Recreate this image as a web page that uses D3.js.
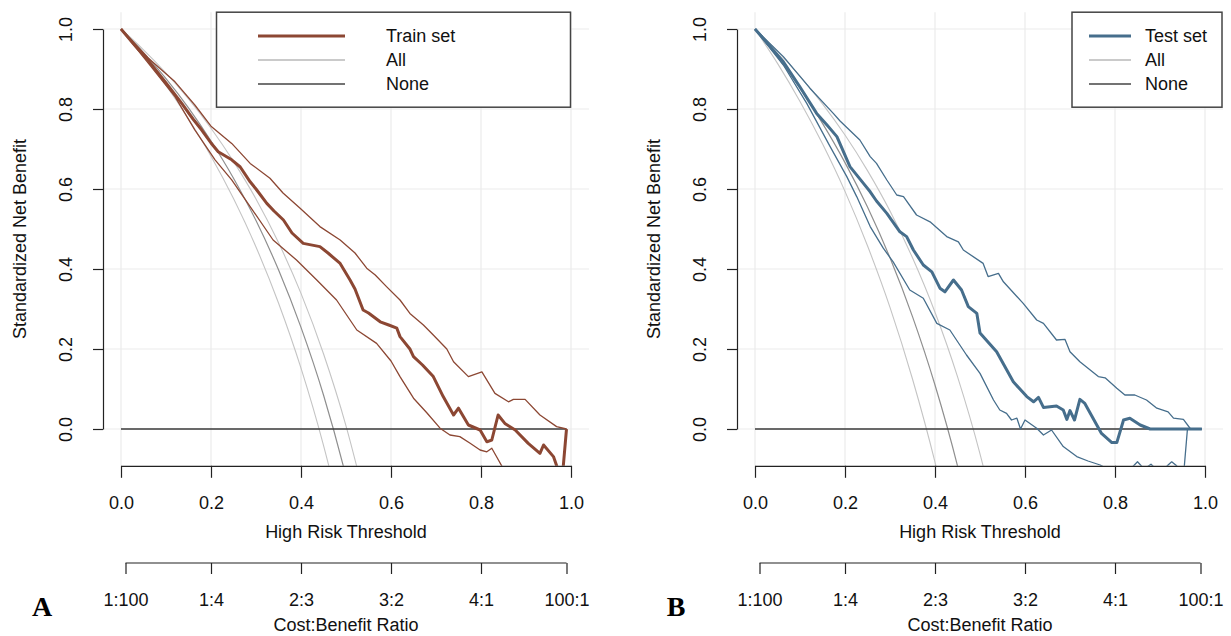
<!DOCTYPE html>
<html>
<head>
<meta charset="utf-8">
<script src="https://cdn.jsdelivr.net/npm/d3@7"></script>
<style>
body { margin: 0; background: #fff; }
svg { display: block; font-family: 'Liberation Sans', Arial, sans-serif; }
</style>
</head>
<body>
<svg id="chart" width="1231" height="636"></svg>
<script>
var thresholdTicks = [0, 0.2, 0.4, 0.6, 0.8, 1]
var benefitTicks = [0, 0.2, 0.4, 0.6, 0.8, 1]
var costTicks = [0.01, 0.2, 0.4, 0.6, 0.8, 0.99]
var costLabels = ['1:100', '1:4', '2:3', '3:2', '4:1', '100:1']

// "All" strategy, read at these thresholds
var allThresholds = [0, 0.05, 0.1, 0.15, 0.2, 0.25, 0.3, 0.35, 0.4, 0.45, 0.5, 0.55]
var trainAll = [1, 0.941, 0.876, 0.803, 0.72, 0.627, 0.521, 0.398, 0.254, 0.085, -0.119, -0.367]
var trainAllLo = [1, 0.933, 0.859, 0.775, 0.682, 0.576, 0.455, 0.315, 0.152, -0.041, -0.273, -0.556]
var trainAllHi = [1, 0.948, 0.89, 0.825, 0.752, 0.669, 0.575, 0.466, 0.339, 0.188, 0.008, -0.212]
var testAll = [1, 0.93, 0.852, 0.764, 0.666, 0.555, 0.428, 0.281, 0.11, -0.092, -0.335, -0.632]
var testAllLo = [1, 0.914, 0.819, 0.713, 0.594, 0.458, 0.304, 0.125, -0.083, -0.33, -0.625, -0.986]
var testAllHi = [1, 0.944, 0.882, 0.813, 0.735, 0.646, 0.545, 0.428, 0.292, 0.131, -0.062, -0.298]

// "None" strategy
var noneThresholds = [0, 0.99]
var noneValues = [0, 0]

// model curves [threshold, standardized net benefit]
var trainModel = [[0, 1], [0.03, 0.96], [0.061, 0.921], [0.1, 0.865], [0.135, 0.814], [0.16, 0.775], [0.179, 0.748],
  [0.2, 0.715], [0.216, 0.693], [0.246, 0.673], [0.265, 0.655], [0.287, 0.618], [0.3, 0.6], [0.324, 0.564],
  [0.34, 0.545], [0.361, 0.5225], [0.38, 0.49], [0.405, 0.464], [0.442, 0.456], [0.46, 0.44], [0.487, 0.414],
  [0.509, 0.3725], [0.52, 0.35], [0.538, 0.2975], [0.55, 0.29], [0.576, 0.268], [0.595, 0.26], [0.613, 0.252],
  [0.62, 0.231], [0.642, 0.2], [0.65, 0.181], [0.67, 0.16], [0.694, 0.131], [0.716, 0.081], [0.739, 0.035],
  [0.75, 0.052], [0.772, 0.01], [0.798, -0.0025], [0.813, -0.032], [0.824, -0.0275], [0.838, 0.035],
  [0.853, 0.014], [0.876, -0.0025], [0.905, -0.036], [0.931, -0.061], [0.939, -0.04], [0.961, -0.069],
  [0.98, -0.13], [0.99, 0]]
var trainModelHi = [[0, 1], [0.061, 0.927], [0.12, 0.868], [0.164, 0.81], [0.2, 0.757], [0.246, 0.714],
  [0.287, 0.664], [0.331, 0.627], [0.36, 0.59], [0.398, 0.552], [0.442, 0.506], [0.487, 0.4725], [0.52, 0.44],
  [0.546, 0.402], [0.565, 0.385], [0.59, 0.356], [0.62, 0.3225], [0.642, 0.289], [0.672, 0.26], [0.694, 0.235],
  [0.724, 0.2], [0.739, 0.168], [0.772, 0.131], [0.802, 0.143], [0.831, 0.089], [0.861, 0.068], [0.872, 0.074],
  [0.898, 0.074], [0.931, 0.035], [0.968, 0.006], [0.99, 0]]
var trainModelLo = [[0, 1], [0.061, 0.914], [0.12, 0.831], [0.164, 0.748], [0.209, 0.673], [0.246, 0.623],
  [0.287, 0.556], [0.338, 0.4725], [0.39, 0.4225], [0.435, 0.3725], [0.479, 0.3225], [0.524, 0.2475],
  [0.568, 0.214], [0.6, 0.17], [0.62, 0.131], [0.65, 0.077], [0.68, 0.04], [0.709, 0.002], [0.731, -0.015],
  [0.753, -0.019], [0.775, -0.035], [0.798, -0.0525], [0.813, -0.057], [0.824, -0.048], [0.846, -0.092],
  [0.86, -0.13]]

var testModel = [[0, 1], [0.063, 0.918], [0.1, 0.855], [0.137, 0.789], [0.16, 0.76], [0.182, 0.731],
  [0.211, 0.656], [0.241, 0.614], [0.256, 0.593], [0.27, 0.57], [0.293, 0.539], [0.322, 0.493], [0.337, 0.481],
  [0.352, 0.4475], [0.374, 0.41], [0.393, 0.393], [0.411, 0.352], [0.422, 0.343], [0.441, 0.3725],
  [0.459, 0.3475], [0.474, 0.306], [0.493, 0.289], [0.5, 0.24], [0.537, 0.193], [0.574, 0.118], [0.604, 0.081],
  [0.619, 0.068], [0.63, 0.079], [0.641, 0.054], [0.67, 0.0575], [0.685, 0.0475], [0.693, 0.024], [0.7, 0.046],
  [0.71, 0.0225], [0.722, 0.074], [0.733, 0.064], [0.77, -0.011], [0.793, -0.034], [0.804, -0.034],
  [0.819, 0.0225], [0.833, 0.027], [0.856, 0.01], [0.878, 0], [0.993, 0]]
var testModelHi = [[0, 1], [0.063, 0.931], [0.122, 0.852], [0.174, 0.789], [0.189, 0.77], [0.233, 0.7225],
  [0.256, 0.681], [0.27, 0.664], [0.293, 0.6225], [0.315, 0.585], [0.33, 0.581], [0.359, 0.535], [0.389, 0.518],
  [0.426, 0.481], [0.452, 0.468], [0.463, 0.4475], [0.507, 0.414], [0.518, 0.381], [0.541, 0.389],
  [0.552, 0.368], [0.596, 0.314], [0.626, 0.2725], [0.641, 0.264], [0.67, 0.2225], [0.689, 0.224], [0.7, 0.193],
  [0.722, 0.168], [0.763, 0.131], [0.778, 0.128], [0.804, 0.102], [0.822, 0.085], [0.844, 0.085],
  [0.87, 0.0725], [0.893, 0.052], [0.918, 0.043], [0.93, 0.027], [0.952, 0.024], [0.968, 0], [0.993, 0]]
var testModelLo = [[0, 1], [0.063, 0.91], [0.115, 0.814], [0.167, 0.706], [0.204, 0.631], [0.226, 0.581],
  [0.256, 0.506], [0.285, 0.452], [0.307, 0.418], [0.344, 0.3475], [0.374, 0.327], [0.404, 0.264],
  [0.433, 0.2475], [0.47, 0.185], [0.5, 0.139], [0.53, 0.0725], [0.544, 0.0475], [0.559, 0.039], [0.57, 0.0225],
  [0.582, 0.027], [0.59, 0], [0.6, 0.0225], [0.626, 0.002], [0.641, -0.015], [0.659, -0.0025], [0.685, -0.044],
  [0.715, -0.069], [0.74, -0.08], [0.767, -0.09], [0.8, -0.11], [0.83, -0.105], [0.85, -0.082], [0.865, -0.1],
  [0.88, -0.088], [0.9, -0.11], [0.918, -0.09], [0.926, -0.082], [0.937, -0.092], [0.952, -0.12], [0.961, 0],
  [0.993, 0]]

var legendNames = ['Train set', 'Test set']
var legendOther = ['All', 'None']

var svg = d3.select('#chart')

draw_panel({ id: 'a', x0: 121, letter: 'A', color: '#8c4733', name: legendNames[0],
  model: trainModel, hi: trainModelHi, lo: trainModelLo,
  all: trainAll, allLo: trainAllLo, allHi: trainAllHi,
  legend: { x: 216.5, w: 354, line0: 258, line1: 345, text: 386 } })

draw_panel({ id: 'b', x0: 755, letter: 'B', color: '#466e8c', name: legendNames[1],
  model: testModel, hi: testModelHi, lo: testModelLo,
  all: testAll, allLo: testAllLo, allHi: testAllHi,
  legend: { x: 1072, w: 150, line0: 1089, line1: 1131, text: 1145 } })

function draw_panel (p) {
  var x = d3.scaleLinear().domain([0, 1]).range([p.x0, p.x0 + 450])
  var y = d3.scaleLinear().domain([0, 1]).range([429, 29])

  // plot region (R style 4% padding)
  var left = x(-0.04), right = x(1.04), top = y(1.042), bottom = y(-0.092)

  var g = svg.append('g')

  svg.append('clipPath').attr('id', 'clip-' + p.id)
    .append('rect')
    .attr('x', left).attr('y', top)
    .attr('width', right - left).attr('height', bottom - top)

  // grid
  g.selectAll('line.vgrid').data(thresholdTicks).enter().append('line')
    .attr('x1', function (d) { return x(d) }).attr('x2', function (d) { return x(d) })
    .attr('y1', top).attr('y2', bottom)
    .attr('stroke', '#ebebeb').attr('stroke-width', 1.2)
  g.selectAll('line.hgrid').data(benefitTicks).enter().append('line')
    .attr('x1', left).attr('x2', right)
    .attr('y1', function (d) { return y(d) }).attr('y2', function (d) { return y(d) })
    .attr('stroke', '#ebebeb').attr('stroke-width', 1.2)

  var curves = g.append('g').attr('clip-path', 'url(#clip-' + p.id + ')')

  var smooth = d3.line()
    .x(function (d, i) { return x(allThresholds[i]) })
    .y(function (d) { return y(d) })
    .curve(d3.curveMonotoneX)
  var jagged = d3.line()
    .x(function (d) { return x(d[0]) })
    .y(function (d) { return y(d[1]) })

  ;[p.allLo, p.allHi].forEach(function (vals) {
    curves.append('path').attr('d', smooth(vals))
      .attr('fill', 'none').attr('stroke', '#c4c4c4').attr('stroke-width', 1.1)
  })
  curves.append('path').attr('d', smooth(p.all))
    .attr('fill', 'none').attr('stroke', '#8f8f8f').attr('stroke-width', 1.2)

  curves.append('path')
    .attr('d', d3.line().x(function (d, i) { return x(noneThresholds[i]) }).y(function (d) { return y(d) })(noneValues))
    .attr('fill', 'none').attr('stroke', '#3a3a3a').attr('stroke-width', 1.4)

  ;[p.lo, p.hi].forEach(function (pts) {
    curves.append('path').attr('d', jagged(pts))
      .attr('fill', 'none').attr('stroke', p.color).attr('stroke-width', 1.3)
      .attr('stroke-linejoin', 'round')
  })
  curves.append('path').attr('d', jagged(p.model))
    .attr('fill', 'none').attr('stroke', p.color).attr('stroke-width', 3)
    .attr('stroke-linejoin', 'round')

  // axes
  var yAxis = g.append('g').attr('transform', 'translate(' + left + ',0)')
    .call(d3.axisLeft(y).tickValues(benefitTicks).tickFormat(d3.format('.1f')).tickSize(10).tickSizeOuter(0))
  yAxis.selectAll('.tick text')
    .attr('transform', 'rotate(-90)')
    .attr('x', 0).attr('y', -31).attr('dy', 0)
    .attr('text-anchor', 'middle')

  var xAxis = g.append('g').attr('transform', 'translate(0,' + bottom + ')')
    .call(d3.axisBottom(x).tickValues(thresholdTicks).tickFormat(d3.format('.1f')).tickSize(12).tickSizeOuter(0))
  xAxis.selectAll('.tick text').attr('y', 37).attr('dy', '0.35em')

  var costAxis = g.append('g').attr('transform', 'translate(0,563)')
    .call(d3.axisBottom(x).tickValues(costTicks)
      .tickFormat(function (d, i) { return costLabels[i] }).tickSize(11).tickSizeOuter(0))
  costAxis.select('.domain').attr('d', 'M' + x(costTicks[0]) + ',0H' + x(costTicks[costTicks.length - 1]))
  costAxis.selectAll('.tick text').attr('y', 37).attr('dy', '0.35em')

  ;[yAxis, xAxis, costAxis].forEach(function (a) {
    a.selectAll('.domain, .tick line').attr('stroke', '#222').attr('stroke-width', 1.2)
    a.selectAll('.tick text').attr('fill', '#111').style('font-size', '18px')
      .style('font-family', "'Liberation Sans', Arial, sans-serif")
  })

  // titles
  var mid = (left + right) / 2
  g.append('text').text('High Risk Threshold')
    .attr('x', mid).attr('y', 532).attr('dy', '0.35em')
    .attr('text-anchor', 'middle').style('font-size', '18px').attr('fill', '#111')
  g.append('text').text('Cost:Benefit Ratio')
    .attr('x', mid).attr('y', 625).attr('dy', '0.35em')
    .attr('text-anchor', 'middle').style('font-size', '18px').attr('fill', '#111')
  g.append('text').text('Standardized Net Benefit')
    .attr('transform', 'translate(' + (left - 77) + ',' + ((top + bottom) / 2) + ') rotate(-90)')
    .attr('text-anchor', 'middle').style('font-size', '18px').attr('fill', '#111')

  g.append('text').text(p.letter)
    .attr('x', p.x0 - 79).attr('y', 616)
    .attr('text-anchor', 'middle')
    .style('font-family', "'Liberation Serif', 'Times New Roman', serif")
    .style('font-weight', 'bold').style('font-size', '28px').attr('fill', '#000')

  // legend
  var L = p.legend
  var lg = g.append('g')
  lg.append('rect').attr('x', L.x).attr('y', top).attr('width', L.w).attr('height', 95)
    .attr('fill', '#fff').attr('stroke', '#444').attr('stroke-width', 1.5)
  var items = [
    { label: p.name, color: p.color, width: 3 },
    { label: legendOther[0], color: '#b8b8b8', width: 1.4 },
    { label: legendOther[1], color: '#444', width: 1.4 }
  ]
  items.forEach(function (it, i) {
    var ly = 36 + i * 24
    lg.append('line').attr('x1', L.line0).attr('x2', L.line1).attr('y1', ly).attr('y2', ly)
      .attr('stroke', it.color).attr('stroke-width', it.width)
    lg.append('text').text(it.label).attr('x', L.text).attr('y', ly).attr('dy', '0.35em')
      .style('font-size', '18px').attr('fill', '#111')
  })
}
</script>
</body>
</html>
